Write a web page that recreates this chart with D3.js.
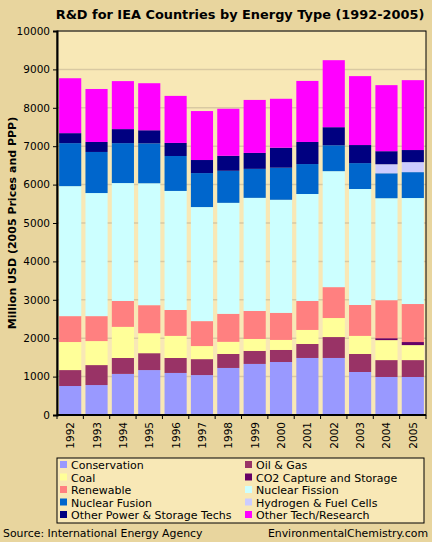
<!DOCTYPE html>
<html>
<head>
<meta charset="utf-8">
<script src="https://cdn.jsdelivr.net/npm/d3@7"></script>
<style>
  body { margin: 0; background: #e8d59e; }
  text { font-family: Verdana, "DejaVu Sans", sans-serif; }
</style>
</head>
<body>
<div class="container"></div>
<script>
const WIDTH = 432;
const HEIGHT = 542;
const MARGIN = {top: 31, right: 6, bottom: 127, left: 57};

var years = ["1992","1993","1994","1995","1996","1997","1998","1999","2000","2001","2002","2003","2004","2005"];
var series = ["Conservation","Oil & Gas","Coal","CO2 Capture and Storage","Renewable",
              "Nuclear Fission","Nuclear Fusion","Hydrogen & Fuel Cells","Other Power & Storage Techs","Other Tech/Research"];
var colours = ["#9999ff","#993366","#ffff99","#660066","#ff8080","#ccffff","#0066cc","#ccccff","#000080","#ff00ff"];

// million USD, per year
var conservation = [755, 780, 1070, 1170, 1095, 1040, 1225, 1330, 1380, 1485, 1485, 1120, 990, 990];
var oilGas       = [415, 520, 415, 440, 390, 415, 365, 340, 315, 365, 545, 470, 440, 440];
var coal         = [730, 625, 810, 520, 575, 340, 315, 310, 260, 365, 495, 470, 520, 390];
var co2          = [0, 0, 0, 0, 0, 0, 0, 0, 0, 0, 0, 0, 50, 80];
var renewable    = [675, 650, 675, 730, 675, 650, 730, 730, 705, 755, 805, 805, 990, 990];
var fission      = [3385, 3205, 3070, 3175, 3100, 2970, 2890, 2945, 2945, 2785, 3020, 3020, 2655, 2760];
var fusion       = [1120, 1070, 1040, 1040, 910, 885, 835, 755, 835, 780, 675, 675, 650, 675];
var hydrogen     = [0, 0, 0, 0, 0, 0, 0, 0, 0, 0, 0, 0, 235, 260];
var otherPower   = [260, 260, 365, 340, 340, 340, 390, 415, 520, 575, 470, 470, 340, 315];
var otherTech    = [1430, 1380, 1250, 1225, 1225, 1275, 1225, 1380, 1275, 1590, 1745, 1795, 1720, 1820];
var yTicks = [0,1000,2000,3000,4000,5000,6000,7000,8000,9000,10000];

var values = [conservation, oilGas, coal, co2, renewable, fission, fusion, hydrogen, otherPower, otherTech];
var rows = years.map(function(y, i) {
    var r = {year: y};
    series.forEach(function(s, j) { r[s] = values[j][i]; });
    return r;
});

var innerW = WIDTH - MARGIN.left - MARGIN.right;
var innerH = HEIGHT - MARGIN.top - MARGIN.bottom;

var svg = d3.select('.container').append('svg')
    .attr('width', WIDTH)
    .attr('height', HEIGHT);

svg.append('rect').attr('width', WIDTH).attr('height', HEIGHT).attr('fill', '#e8d59e');

svg.append('text')
    .attr('x', 240).attr('y', 19)
    .attr('text-anchor', 'middle')
    .attr('font-size', 12.9).attr('font-weight', 'bold')
    .text('R&D for IEA Countries by Energy Type (1992-2005)');

var xScale = d3.scaleBand().domain(years).range([0, innerW]).paddingInner(0.16).paddingOuter(0.08);
var yScale = d3.scaleLinear().domain([0, 10000]).range([innerH, 0]);

var g = svg.append('g')
    .attr('transform', 'translate('+MARGIN.left+', '+MARGIN.top+')');

g.append('rect').attr('width', innerW).attr('height', innerH).attr('fill', '#f8e8b6');

// gridlines
g.selectAll('.grid').data(yTicks.slice(1)).enter()
    .append('line')
    .attr('x1', 0).attr('x2', innerW)
    .attr('y1', yScale).attr('y2', yScale)
    .attr('stroke', '#d9c9a2').attr('stroke-width', 1.5);

var stack = d3.stack().keys(series)(rows);

g.selectAll('.layer').data(stack).enter()
    .append('g')
    .attr('fill', function(d, i) { return colours[i]; })
    .selectAll('rect').data(function(d) { return d; }).enter()
    .append('rect')
    .attr('x', function(d) { return xScale(d.data.year); })
    .attr('width', xScale.bandwidth())
    .attr('y', function(d) { return yScale(d[1]); })
    .attr('height', function(d) { return yScale(d[0]) - yScale(d[1]); });

// frame
g.append('rect').attr('width', innerW).attr('height', innerH)
    .attr('fill', 'none').attr('stroke', '#000').attr('stroke-width', 1);

var yAxis = d3.axisLeft(yScale).tickValues(yTicks).tickSize(4).tickFormat(d3.format('d'));
var ya = g.append('g').call(yAxis);
ya.select('.domain').attr('stroke-width', 2);
ya.selectAll('text').attr('font-size', 10.5).attr('fill', '#000');

// x ticks sit between the bars
var xEdges = d3.range(years.length + 1).map(function(i) { return i * innerW / years.length; });
g.selectAll('.xt').data(xEdges).enter()
    .append('line')
    .attr('x1', function(d) { return d; }).attr('x2', function(d) { return d; })
    .attr('y1', innerH).attr('y2', innerH + 4)
    .attr('stroke', '#000');
g.append('line').attr('x1', 0).attr('x2', innerW).attr('y1', innerH).attr('y2', innerH)
    .attr('stroke', '#000').attr('stroke-width', 2);

g.selectAll('.xl').data(years).enter()
    .append('text')
    .attr('transform', function(d) {
        return 'translate('+(xScale(d) + xScale.bandwidth()/2 + 4)+', '+(innerH + 7)+') rotate(-90)';
    })
    .attr('text-anchor', 'end')
    .attr('font-size', 10.5)
    .text(function(d) { return d; });

svg.append('text')
    .attr('transform', 'translate(16, '+(MARGIN.top + innerH/2)+') rotate(-90)')
    .attr('text-anchor', 'middle')
    .attr('font-size', 11).attr('font-weight', 'bold')
    .text('Million USD (2005 Prices and PPP)');

// legend
var lg = svg.append('g').attr('transform', 'translate(57, 458)');
lg.append('rect').attr('width', 367).attr('height', 65)
    .attr('fill', '#f8e8b6').attr('stroke', '#000');
var item = lg.selectAll('.item').data(series).enter()
    .append('g')
    .attr('transform', function(d, i) {
        return 'translate('+(i % 2 ? 188 : 3)+', '+(3 + Math.floor(i / 2) * 12.5)+')';
    });
item.append('rect').attr('width', 7).attr('height', 7)
    .attr('fill', function(d, i) { return colours[i]; });
item.append('text').attr('x', 11).attr('y', 8)
    .attr('font-size', 11)
    .text(function(d) { return d; });

svg.append('text').attr('x', 3).attr('y', 537).attr('font-size', 10.9)
    .text('Source: International Energy Agency');
svg.append('text').attr('x', 428).attr('y', 537).attr('font-size', 10.9)
    .attr('text-anchor', 'end')
    .text('EnvironmentalChemistry.com');
</script>
</body>
</html>
